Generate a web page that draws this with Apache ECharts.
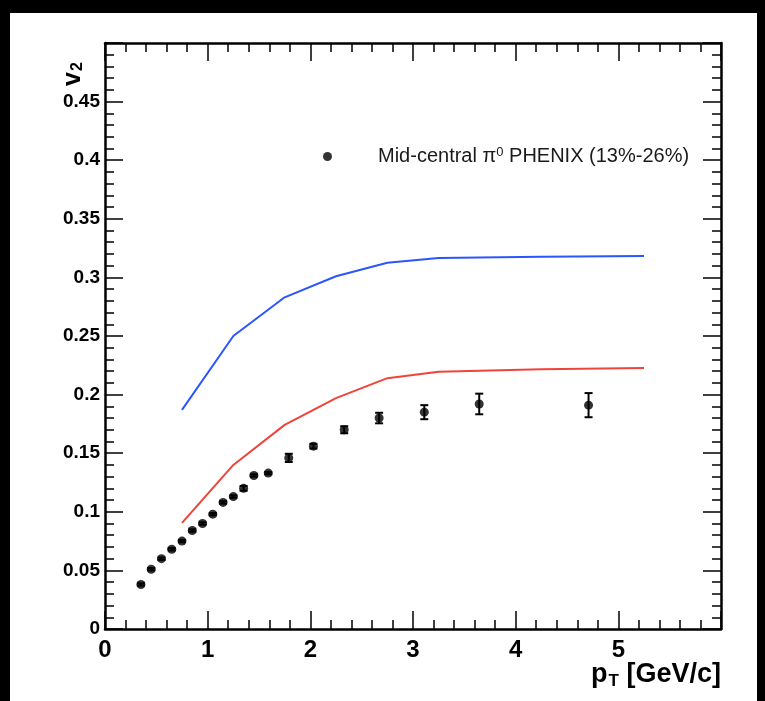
<!DOCTYPE html>
<html>
<head>
<meta charset="utf-8">
<title>v2 vs pT</title>
<script src="https://cdn.jsdelivr.net/npm/echarts@6/dist/echarts.min.js"></script>
<style>
  html, body { margin: 0; padding: 0; background: #000; }
  #chart { width: 765px; height: 701px; }
</style>
</head>
<body>
<div id="chart"></div>
<script>
// PHENIX mid-central pi0 v2 measurement (13%-26%)
var phenixPt  = [0.35, 0.45, 0.55, 0.65, 0.75, 0.85, 0.95, 1.05, 1.15, 1.25, 1.35, 1.45, 1.59, 1.79, 2.03, 2.33, 2.67, 3.11, 3.645, 4.71];
var phenixV2  = [0.038, 0.051, 0.060, 0.068, 0.075, 0.084, 0.090, 0.098, 0.108, 0.113, 0.120, 0.131, 0.133, 0.146, 0.156, 0.170, 0.180, 0.185, 0.192, 0.191];
var phenixErr = [0.001, 0.001, 0.001, 0.001, 0.001, 0.001, 0.001, 0.001, 0.001, 0.001, 0.002, 0.001, 0.001, 0.0035, 0.002, 0.003, 0.0045, 0.006, 0.0088, 0.0103];

// model curves
var modelPt   = [0.75, 1.25, 1.75, 2.25, 2.75, 3.25, 4.25, 5.25];
var blueV2    = [0.187, 0.250, 0.283, 0.301, 0.3125, 0.3165, 0.3177, 0.3183];
var redV2     = [0.0905, 0.140, 0.1742, 0.197, 0.214, 0.2195, 0.2217, 0.2226];

var legendText = 'Mid-central \u03c0{sup|0} PHENIX (13%-26%)';
var seriesName = 'Mid-central \u03c0^0 PHENIX (13%-26%)';

function pairs(xs, ys) {
  return xs.map(function (x, i) { return [x, ys[i]]; });
}

var FONT = "'Liberation Sans', Arial, Helvetica, sans-serif";

var chart = echarts.init(document.getElementById('chart'), null, { renderer: 'canvas' });

var tickStyle = { color: '#000', width: 1.5 };

function xAxisCfg(pos, showLabel) {
  return {
    type: 'value', position: pos, min: 0, max: 6, interval: 1,
    axisLine: { show: true, onZero: false, lineStyle: { color: '#000', width: 2.5 } },
    axisTick: { show: true, inside: true, length: 18, lineStyle: tickStyle },
    minorTick: { show: true, splitNumber: 5, length: 9, lineStyle: tickStyle },
    splitLine: { show: false },
    axisLabel: {
      show: showLabel, margin: 9, color: '#000', fontFamily: FONT, fontWeight: 'bold', fontSize: 24,
      formatter: function (v) { return v >= 6 ? '' : String(v); }
    }
  };
}

function yAxisCfg(pos, showLabel) {
  return {
    type: 'value', position: pos, min: 0, max: 0.5, interval: 0.05,
    axisLine: { show: true, onZero: false, lineStyle: { color: '#000', width: 2.5 } },
    axisTick: { show: true, inside: true, length: 18, lineStyle: tickStyle },
    minorTick: { show: true, splitNumber: 5, length: 9, lineStyle: tickStyle },
    splitLine: { show: false },
    axisLabel: {
      show: showLabel, margin: 5, color: '#000', fontFamily: FONT, fontWeight: 'bold', fontSize: 19,
      formatter: function (v) { return v >= 0.499 ? '' : String(+v.toFixed(2)); }
    }
  };
}

var option = {
  animation: false,
  backgroundColor: '#000',
  grid: { left: 105, right: 44, top: 43, bottom: 72, containLabel: false },
  xAxis: [xAxisCfg('bottom', true), xAxisCfg('top', false)],
  yAxis: [yAxisCfg('left', true), yAxisCfg('right', false)],
  legend: {
    left: 318, top: 141,
    data: [seriesName],
    icon: 'circle', itemWidth: 9, itemHeight: 9,
    formatter: function () { return legendText; },
    textStyle: {
      color: '#1a1a1a', fontFamily: FONT, fontSize: 20, padding: [0, 0, 0, 41],
      rich: {
        sup: { fontSize: 13, fontFamily: FONT, color: '#1a1a1a', verticalAlign: 'top', padding: [0, 0, 8, 0] }
      }
    }
  },
  graphic: [
    {
      type: 'rect', z: -10, silent: true,
      shape: { x: 10, y: 13, width: 747, height: 700 },
      style: { fill: '#fff' }
    },
    {
      type: 'text', x: 86, y: 86, rotation: Math.PI / 2, z: 10,
      style: {
        text: 'v{s|2}', fill: '#000', font: 'bold 25px ' + FONT,
        textAlign: 'left', textVerticalAlign: 'bottom',
        rich: { s: { font: 'bold 16px ' + FONT, fill: '#000', padding: [10, 0, 0, 1] } }
      }
    },
    {
      type: 'text', x: 721, y: 690, z: 10,
      style: {
        text: 'p{s|T} [GeV/c]', fill: '#000', font: 'bold 27px ' + FONT,
        textAlign: 'right', textVerticalAlign: 'bottom',
        rich: { s: { font: 'bold 17px ' + FONT, fill: '#000', padding: [13, 0, 0, 1] } }
      }
    }
  ],
  series: [
    {
      name: 'blue model', type: 'line', data: pairs(modelPt, blueV2),
      showSymbol: false, symbol: 'none', smooth: false,
      lineStyle: { color: '#2b55ff', width: 2 }, z: 3
    },
    {
      name: 'red model', type: 'line', data: pairs(modelPt, redV2),
      showSymbol: false, symbol: 'none', smooth: false,
      lineStyle: { color: '#f0443a', width: 2 }, z: 3
    },
    {
      name: seriesName, type: 'scatter', data: pairs(phenixPt, phenixV2),
      symbol: 'circle', symbolSize: 9,
      itemStyle: { color: '#000' }, z: 5
    },
    {
      name: 'errors', type: 'custom', z: 4,
      data: phenixPt.map(function (x, i) { return [x, phenixV2[i], phenixErr[i]]; }),
      renderItem: function (params, api) {
        var x = api.value(0), y = api.value(1), e = api.value(2);
        var hi = api.coord([x, y + e]);
        var lo = api.coord([x, y - e]);
        var cap = 4;
        var style = { stroke: '#000', lineWidth: 2 };
        return {
          type: 'group',
          children: [
            { type: 'line', shape: { x1: hi[0], y1: hi[1], x2: lo[0], y2: lo[1] }, style: style },
            { type: 'line', shape: { x1: hi[0] - cap, y1: hi[1], x2: hi[0] + cap, y2: hi[1] }, style: style },
            { type: 'line', shape: { x1: lo[0] - cap, y1: lo[1], x2: lo[0] + cap, y2: lo[1] }, style: style }
          ]
        };
      }
    }
  ]
};

chart.setOption(option);
</script>
</body>
</html>
